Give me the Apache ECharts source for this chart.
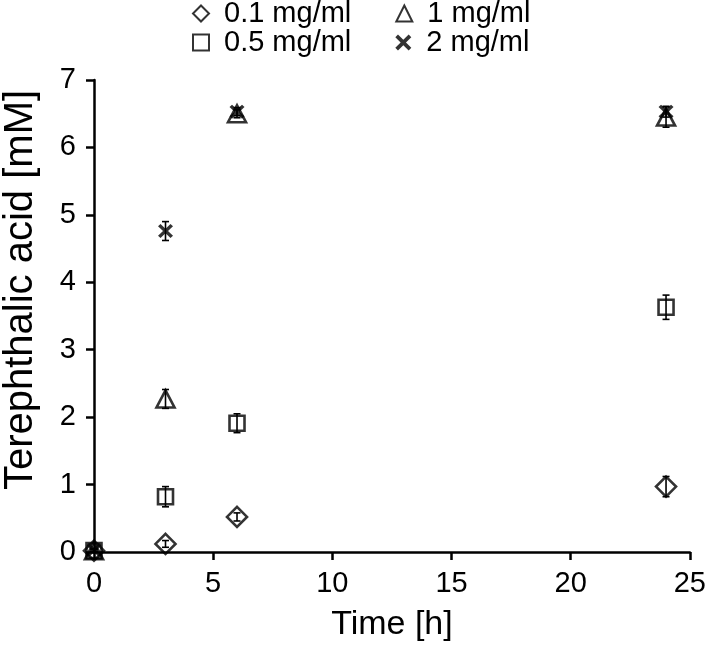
<!DOCTYPE html>
<html>
<head>
<meta charset="utf-8">
<script src="https://cdn.jsdelivr.net/npm/echarts@6/dist/echarts.min.js"></script>
<style>html,body{margin:0;padding:0;background:#fff}#c{width:709px;height:654px}</style>
</head>
<body>
<div id="c"></div>
<script>
const times = [0, 3, 6, 24];
const names = ['0.1 mg/ml', '0.5 mg/ml', '1 mg/ml', '2 mg/ml'];
const c01 = [0.02, 0.12, 0.52, 0.97];
const e01 = [0.02, 0.05, 0.06, 0.15];
const c05 = [0.02, 0.82, 1.91, 3.63];
const e05 = [0.02, 0.15, 0.14, 0.18];
const c1 = [0.02, 2.27, 6.50, 6.45];
const e1 = [0.02, 0.14, 0.06, 0.15];
const c2 = [0.03, 4.76, 6.53, 6.53];
const e2 = [0.02, 0.14, 0.06, 0.08];
const xTicks = [0, 5, 10, 15, 20, 25];
const yTicks = [0, 1, 2, 3, 4, 5, 6, 7];
const xTitle = 'Time [h]';
const yTitle = 'Terephthalic acid [mM]';

const FONT = 'Liberation Sans, Arial, sans-serif';
const X_PATH = 'path://M0,2 L2,0 L6,4 L10,0 L12,2 L8,6 L12,10 L10,12 L6,8 L2,12 L0,10 L4,6 Z';

const values = [c01, c05, c1, c2];
const errs = [e01, e05, e1, e2];
const symbols = ['diamond', 'rect', 'triangle', X_PATH];
const sizes = [[20, 20], [15, 15], [18, 17], [15, 14]];

const series = [];
values.forEach((vals, i) => {
  series.push({
    type: 'custom',
    name: names[i] + ' err',
    data: times.map((t, k) => [t, vals[k], errs[i][k]]),
    z: 3,
    silent: true,
    renderItem: function (params, api) {
      const x = api.value(0), y = api.value(1), e = api.value(2);
      const top = api.coord([x, y + e]);
      const bot = api.coord([x, y - e]);
      const w = 3.5;
      const st = { stroke: '#000', lineWidth: 1.6 };
      return {
        type: 'group',
        children: [
          { type: 'line', shape: { x1: top[0], y1: top[1], x2: bot[0], y2: bot[1] }, style: st },
          { type: 'line', shape: { x1: top[0] - w, y1: top[1], x2: top[0] + w, y2: top[1] }, style: st },
          { type: 'line', shape: { x1: bot[0] - w, y1: bot[1], x2: bot[0] + w, y2: bot[1] }, style: st }
        ]
      };
    }
  });
  const isX = i === 3;
  series.push({
    type: 'scatter',
    name: names[i],
    data: times.map((t, k) => [t, vals[k]]),
    symbol: symbols[i],
    symbolSize: sizes[i],
    z: 2,
    itemStyle: isX ? { color: '#000', borderWidth: 0 } : { color: 'rgba(255,255,255,0)', borderColor: '#000', borderWidth: 2.6 }
  });
});

const legendCommon = {
  left: 192,
  padding: 0,
  itemWidth: 16,
  itemHeight: 16,
  itemGap: 44,
  textStyle: { fontFamily: FONT, fontSize: 29, color: '#000', padding: [0, 0, 0, 10] }
};

const option = {
  animation: false,
  backgroundColor: '#fff',
  grid: { left: 94, right: 17, top: 80, bottom: 102, containLabel: false },
  legend: [
    Object.assign({}, legendCommon, { top: -1, data: [names[0], names[2]] }),
    Object.assign({}, legendCommon, { top: 28, data: [names[1], names[3]] })
  ],
  graphic: [{
    type: 'text',
    x: 21, y: 290,
    rotation: Math.PI / 2,
    style: {
      text: yTitle,
      fontFamily: FONT, fontSize: 40, fill: '#000',
      align: 'center', verticalAlign: 'middle'
    }
  }],
  xAxis: {
    type: 'value',
    min: xTicks[0], max: xTicks[xTicks.length - 1], interval: 5,
    name: xTitle, nameLocation: 'middle', nameGap: 56,
    nameTextStyle: { fontFamily: FONT, fontSize: 34, color: '#000' },
    axisLine: { show: true, lineStyle: { color: '#000', width: 2.5 } },
    axisTick: { show: true, inside: false, length: 8, lineStyle: { color: '#000', width: 2.5 } },
    axisLabel: { fontFamily: FONT, fontSize: 29, color: '#000', margin: 17 },
    splitLine: { show: false }
  },
  yAxis: {
    type: 'value',
    min: yTicks[0], max: yTicks[yTicks.length - 1], interval: 1,
    axisLine: { show: true, lineStyle: { color: '#000', width: 2.5 } },
    axisTick: { show: true, inside: false, length: 8, lineStyle: { color: '#000', width: 2.5 } },
    axisLabel: { fontFamily: FONT, fontSize: 29, color: '#000', margin: 18 },
    splitLine: { show: false }
  },
  series: series
};

const chart = echarts.init(document.getElementById('c'), null, { renderer: 'canvas' });
chart.setOption(option);
</script>
</body>
</html>
